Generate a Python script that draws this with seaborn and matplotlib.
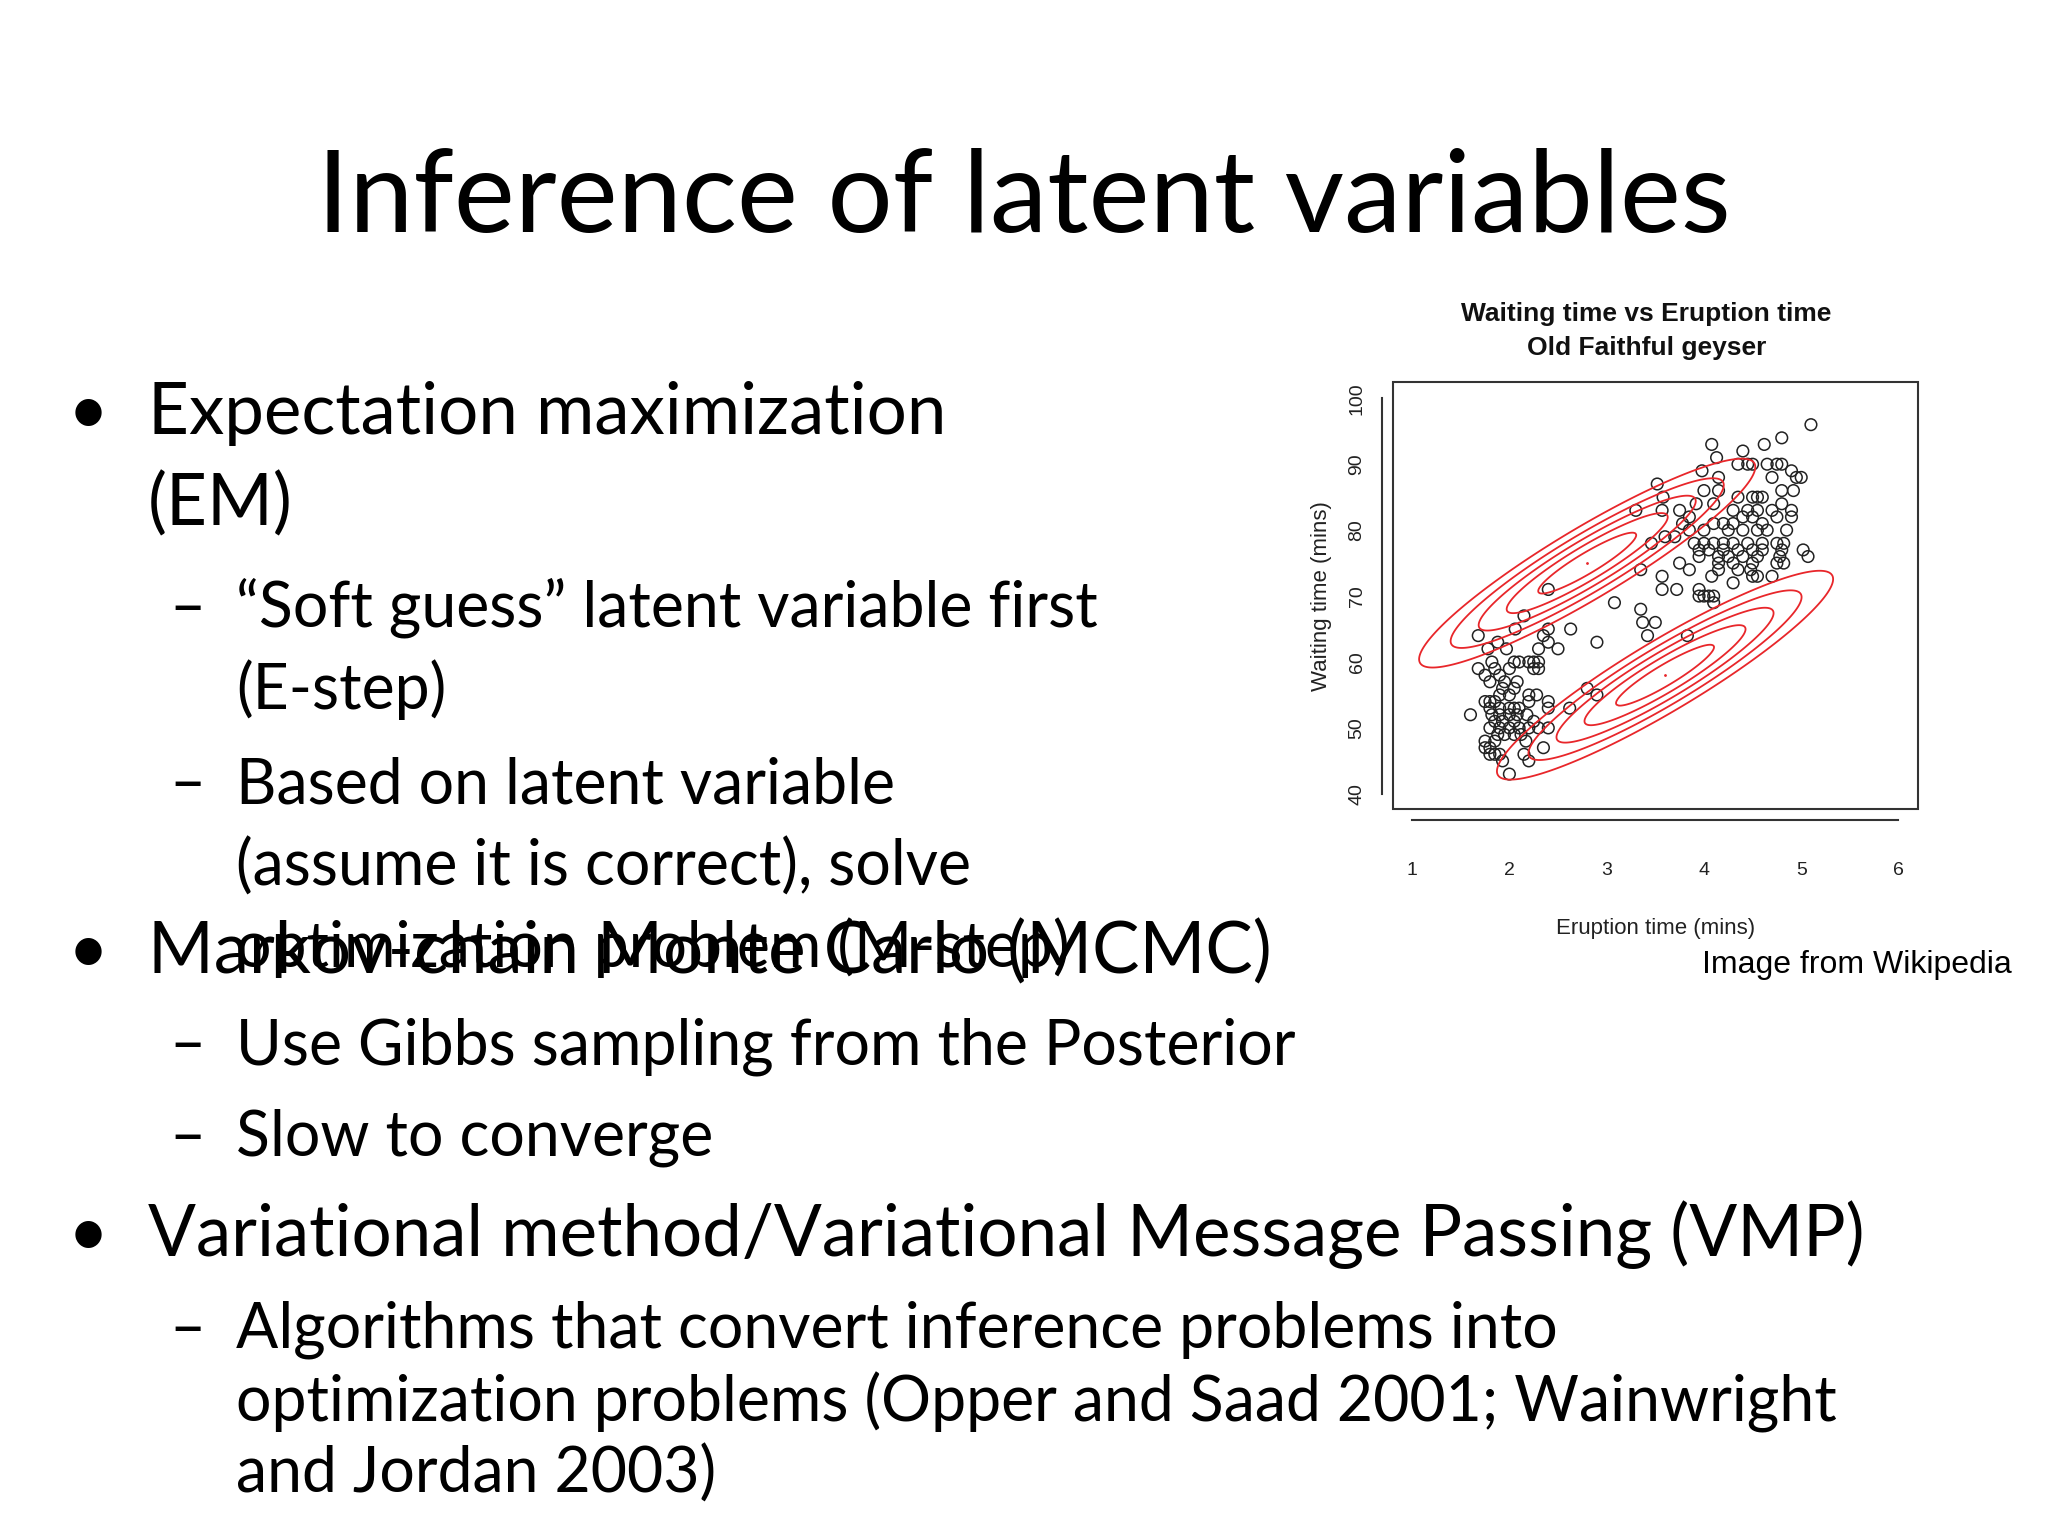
import numpy as np
import pandas as pd
import matplotlib
matplotlib.use("Agg")
import matplotlib.pyplot as plt
import seaborn as sns
from matplotlib.patches import Rectangle

sns.set_style("white")
plt.rcParams['font.family'] = ['Lato', 'DejaVu Sans']

eruption = [5.1,4.8,4.62,4.4,4.08,4.13,3.98,4.35,4.45,4.5,4.65,4.75,4.8,4.9,4.95,5.0,4.7,4.15,3.52,4.0,4.15,4.8,4.92,3.58,4.35,4.5,4.55,4.6,3.57,3.3,3.75,3.92,4.1,4.3,4.45,4.55,4.7,4.8,4.9,3.78,3.85,4.1,4.2,4.3,4.4,4.5,4.6,4.75,4.9,3.85,4.0,4.25,4.4,4.55,4.65,4.85,3.6,3.7,3.9,4.0,4.1,4.2,4.3,4.45,4.6,4.75,4.82,3.46,3.95,4.05,4.2,4.35,4.5,4.6,4.8,5.02,5.07,3.95,4.15,4.25,4.4,4.55,4.78,3.75,4.15,4.3,4.5,4.75,4.82,3.85,3.35,4.15,4.35,4.48,4.55,4.5,4.7,4.08,4.3,3.57,3.57,3.72,3.95,4.0,4.05,4.1,4.1,3.95,2.4,3.08,3.35,3.37,3.5,3.42,3.83,2.63,2.15,2.06,2.4,2.9,2.35,2.4,2.5,2.3,1.68,1.78,1.88,1.97,
            1.68,1.75,1.82,1.85,1.9,1.8,2.0,2.05,2.1,2.2,2.25,2.3,2.25,2.3,1.95,2.08,1.93,2.0,2.05,1.9,1.85,1.75,1.8,2.2,2.28,2.2,1.8,1.9,2.0,2.05,2.1,2.4,2.4,2.62,2.8,2.9,1.6,1.82,1.9,2.0,2.08,2.18,1.85,1.93,2.05,2.25,1.8,1.9,2.0,2.1,2.2,2.3,2.4,1.88,1.95,2.05,2.12,1.75,1.85,2.17,1.75,1.8,2.35,1.8,1.85,1.9,2.15,1.93,2.2,2.0]
waiting = [96,94,93,92,93,91,89,90,90,90,90,90,90,89,88,88,88,88,87,86,86,86,86,85,85,85,85,85,83,83,83,84,84,83,83,83,83,84,83,81,82,81,81,81,82,82,81,82,82,80,80,80,80,80,80,80,79,79,78,78,78,78,78,78,78,78,78,78,77,77,77,77,77,77,77,77,76,76,76,76,76,76,76,75,75,75,75,75,75,74,74,74,74,74,73,73,73,73,72,73,71,71,71,70,70,70,69,70,71,69,68,66,66,64,64,65,67,65,65,63,64,63,62,62,64,62,63,62,
           59,58,60,59,58,57,59,60,60,60,60,60,59,59,57,57,56,55,56,55,54,54,54,55,55,54,53,53,53,53,53,54,53,53,56,55,52,52,52,52,52,52,51,51,51,51,50,50,50,50,50,50,50,49,49,49,49,48,48,48,47,47,47,46,46,46,46,45,45,43]

# Gaussian mixture components (EM iteration state)
means = [(2.8, 75.0), (3.6, 58.0)]
sds = [(0.72, 6.6)]*2
rho = [0.92, 0.92]
mahal_levels = [0.7, 1.15, 1.55, 1.95, 2.4]

fig = plt.figure(figsize=(20.48, 15.36), dpi=100)
fig.patch.set_facecolor("white")

def T(x, y, s, size, **kw):
    kw.setdefault('color', 'black')
    fig.text(x/1568, 1 - y/1176, s, fontsize=size, va='baseline', **kw)

T(784, 178, "Inference of latent variables", 83, ha='center')
B = 51; S = 45
T(52, 332, "•", B); T(113, 332, "Expectation maximization", B)
T(113, 402, "(EM)", B)
T(130, 480, "–", S); T(181, 480, "\u201cSoft guess\u201d latent variable first", S)
T(181, 543, "(E-step)", S)
T(130, 615, "–", S); T(181, 615, "Based on latent variable", S)
T(181, 678, "(assume it is correct), solve", S)
T(181, 740, "optimization problem (M-step)", S)
T(52, 745, "•", B); T(113, 745, "Markov-chain Monte Carlo (MCMC)", B)
T(130, 815, "–", S); T(181, 815, "Use Gibbs sampling from the Posterior", S)
T(130, 885, "–", S); T(181, 885, "Slow to converge", S)
T(52, 962, "•", B); T(113, 962, "Variational method/Variational Message Passing (VMP)", B)
T(130, 1032, "–", S); T(181, 1032, "Algorithms that convert inference problems into", S)
T(181, 1088, "optimization problems (Opper and Saad 2001; Wainwright", S)
T(181, 1143, "and Jordan 2003)", S)
T(1303, 745, "Image from Wikipedia", 23, family=['Liberation Sans'])

fig.text(0.804, 0.791, "Waiting time vs Eruption time", fontsize=19, fontweight='bold',
         ha='center', va='baseline', family=['Liberation Sans'], color='#111111')
fig.text(0.804, 0.769, "Old Faithful geyser", fontsize=19, fontweight='bold',
         ha='center', va='baseline', family=['Liberation Sans'], color='#111111')

ax = fig.add_axes([0.680, 0.4733, 0.2565, 0.2777])
df = pd.DataFrame({"eruption": eruption, "waiting": waiting})
sns.scatterplot(data=df, x="eruption", y="waiting", ax=ax, marker='o', s=70,
                facecolors='none', edgecolor='#222222', linewidth=1.1)

gx = np.linspace(0.8, 6.2, 400); gy = np.linspace(37, 103, 400)
X, Y = np.meshgrid(gx, gy)
for (mx, my), (sx, sy), r in zip(means, sds, rho):
    zx = (X - mx)/sx; zy = (Y - my)/sy
    D = np.sqrt((zx**2 - 2*r*zx*zy + zy**2)/(1 - r**2))
    ax.contour(X, Y, D, levels=mahal_levels, colors='#e8262a', linewidths=1.3)
    ax.plot([mx], [my], marker='.', color='#e8262a', markersize=2)

ax.set_xlim(0.8, 6.2); ax.set_ylim(37.7, 102.4)
ax.add_patch(Rectangle((0, 0), 1, 1, transform=ax.transAxes, fill=False,
                       edgecolor='#333333', linewidth=1.5, clip_on=False))
for s in ['top', 'right']:
    ax.spines[s].set_visible(False)
ax.spines['bottom'].set_position(('outward', 8))
ax.spines['left'].set_position(('outward', 8))
ax.spines['bottom'].set_bounds(1, 6)
ax.spines['left'].set_bounds(40, 100)
for s in ['bottom', 'left']:
    ax.spines[s].set_color('#333333'); ax.spines[s].set_linewidth(1.5)
ax.set_xticks([1, 2, 3, 4, 5, 6]); ax.set_yticks([40, 50, 60, 70, 80, 90, 100])
ax.tick_params(axis='both', length=8, width=1.5, colors='#333333', labelsize=14,
               direction='out', labelcolor='#222222')
ax.tick_params(axis='x', pad=22)
for lab in ax.get_yticklabels():
    lab.set_rotation(90); lab.set_va('center'); lab.set_family(['Liberation Sans'])
for lab in ax.get_xticklabels():
    lab.set_family(['Liberation Sans'])
ax.set_xlabel("Eruption time (mins)", fontsize=16, family=['Liberation Sans'], labelpad=28, color='#222222')
ax.set_ylabel("Waiting time (mins)", fontsize=16, family=['Liberation Sans'], labelpad=12, color='#222222')

fig.savefig("out.png", dpi=100, facecolor="white")
